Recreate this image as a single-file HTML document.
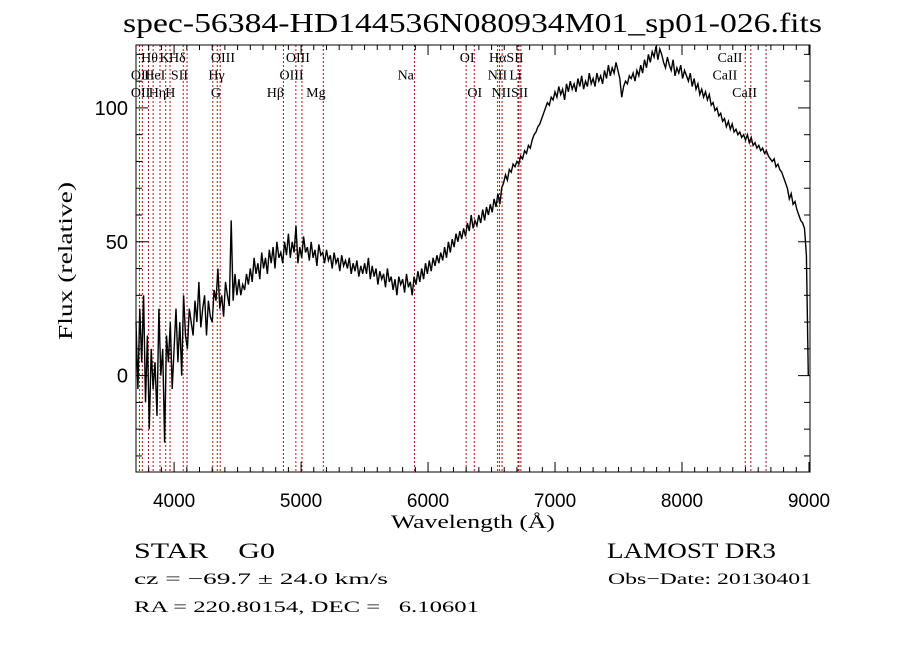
<!DOCTYPE html>
<html><head><meta charset="utf-8"><style>
html,body{margin:0;padding:0;background:#fff;}
svg{display:block;}
text{font-family:"Liberation Serif","DejaVu Serif",serif;fill:#000;white-space:pre;}
.num{font-family:"Liberation Sans",sans-serif;}
.ln{font-family:"Liberation Serif",serif;font-size:14px;}
</style></head><body>
<svg id="chart" width="900" height="649" viewBox="0 0 900 649" xml:space="preserve">
<text x="123" y="32" font-size="27" textLength="699" lengthAdjust="spacingAndGlyphs">spec-56384-HD144536N080934M01_sp01-026.fits</text>
<g id="lines"></g>
<g id="labels"></g>
<path id="spec" fill="none" stroke="#000" stroke-width="1.4" stroke-linejoin="miter"/>
<rect x="136" y="45" width="674" height="427" fill="none" stroke="#000" stroke-width="1"/>
<g id="ticks"></g>
<text x="391" y="528" font-size="19" textLength="164" lengthAdjust="spacingAndGlyphs">Wavelength (Å)</text>
<text transform="translate(72,340) rotate(-90)" font-size="20" textLength="158" lengthAdjust="spacingAndGlyphs">Flux (relative)</text>
<text x="134" y="558" font-size="22" textLength="141" lengthAdjust="spacingAndGlyphs">STAR    G0</text>
<text x="607" y="558" font-size="22" textLength="169" lengthAdjust="spacingAndGlyphs">LAMOST DR3</text>
<text x="134" y="584" font-size="16" textLength="254" lengthAdjust="spacingAndGlyphs">cz = −69.7 ± 24.0 km/s</text>
<text x="608" y="584" font-size="16" textLength="204" lengthAdjust="spacingAndGlyphs">Obs−Date: 20130401</text>
<text x="134" y="612" font-size="16" textLength="345" lengthAdjust="spacingAndGlyphs">RA = 220.80154, DEC =   6.10601</text>
</svg>
<script>
const waveStart = 3700, waveStep = 15;
const fluxValues = [
20,-5,25,5,30,-10,15,-20,10,-5,
5,-15,25,0,10,-25,15,5,20,-5,
10,25,5,20,0,30,15,10,25,20,
15,28,20,35,18,25,30,15,28,22,
20,32,28,40,25,30,22,35,30,26,
58,28,38,30,36,30,34,32,38,34,
40,35,44,38,42,36,46,40,44,38,
47,42,48,40,50,44,46,42,50,45,
53,44,50,46,56,42,48,44,52,46,
48,43,50,44,47,41,49,45,46,42,
47,43,45,40,46,42,44,39,45,41,
43,40,44,38,42,39,43,37,41,38,
42,38,44,36,41,37,40,34,39,36,
38,33,40,35,37,32,36,30,37,34,
36,31,38,33,35,30,37,34,39,35,
40,36,42,38,43,39,44,41,45,42,
46,43,48,44,50,46,51,48,53,50,
54,51,55,52,57,54,60,55,58,56,
60,57,62,58,63,60,64,61,66,63,
68,64,70,72,75,73,77,76,79,78,
80,79,82,81,84,83,86,85,88,90,
91,93,94,96,98,100,102,101,104,103,
106,104,108,105,107,103,109,106,110,107,
109,106,111,108,112,107,110,108,113,109,
111,108,113,110,112,109,114,111,116,112,
115,113,117,114,111,104,108,110,109,112,
111,113,110,114,112,116,113,118,115,120,
117,121,119,123,118,122,120,117,115,119,
116,114,118,112,115,113,116,111,114,112,
110,113,108,111,107,109,105,107,104,106,
103,105,101,102,99,100,97,98,95,96,
93,95,92,94,91,92,90,91,89,90,
88,90,87,89,86,87,85,86,84,85,
83,84,82,81,80,81,78,79,77,76,
74,72,70,66,68,64,65,62,60,58,
57,55,45,0];
const lineWaves = [3727,3750,3798,3835,3889,3934,3968,4072,4102,4305,4340,4363,4861,4959,5007,5175,5893,6300,6364,6548,6563,6583,6708,6716,6731,8498,8542,8662];
const labelText = ["Hθ","K","Hδ","OIII","OIII","OI","HαSII","CaII","OII","HeI","SII","Hγ","OIII","Na","NII","Li","CaII","OII","Hη","H","G","Hβ","Mg","OI","NIISII","CaII"];
const labelWave = [3740,3885,3960,4290,4880,6250,6480,8280,3660,3765,3975,4270,4830,5760,6470,6640,8240,3660,3800,3930,4290,4730,5040,6310,6500,8395];
const labelRow =  [0,0,0,0,0,0,0,0,1,1,1,1,1,1,1,1,1,2,2,2,2,2,2,2,2,2];
const xTicks = [4000,5000,6000,7000,8000,9000];
const yTicks = [0,50,100];
const X0=3700,X1=9008,Y0=-36,Y1=123.5;
const PL=136,PR=810,PT=45,PB=472;
const xs = w => PL+(w-X0)/(X1-X0)*(PR-PL);
const ys = f => PB-(f-Y0)/(Y1-Y0)*(PB-PT);
const NS='http://www.w3.org/2000/svg';
let d='';
fluxValues.forEach((f,i)=>{const w=waveStart+i*waveStep;d+=(i?'L':'M')+xs(Math.min(w,X1)).toFixed(1)+' '+ys(f).toFixed(1);});
document.getElementById('spec').setAttribute('d',d);
const lg=document.getElementById('lines');
lineWaves.forEach((w,i)=>{const l=document.createElementNS(NS,'line');
l.setAttribute('x1',xs(w));l.setAttribute('x2',xs(w));l.setAttribute('y1',PT);l.setAttribute('y2',PB);
l.setAttribute('stroke','#a81818');l.setAttribute('stroke-width','1');l.setAttribute('stroke-dasharray','2,2');


lg.appendChild(l);});
const lb=document.getElementById('labels');
labelText.forEach((t,i)=>{const e=document.createElementNS(NS,'text');
e.setAttribute('x',Math.max(xs(labelWave[i]),129));e.setAttribute('y',62+labelRow[i]*17.5);e.setAttribute('class','ln');e.textContent=t;


lb.appendChild(e);});
const tg=document.getElementById('ticks');
function ln(x1,y1,x2,y2){const l=document.createElementNS(NS,'line');l.setAttribute('x1',x1);l.setAttribute('y1',y1);l.setAttribute('x2',x2);l.setAttribute('y2',y2);l.setAttribute('stroke','#000');


tg.appendChild(l);}
for(let w=3700;w<=9000;w+=100){const x=xs(w),L=(w%1000===0)?10:5;ln(x,PB,x,PB-L);ln(x,PT,x,PT+L);}
for(let f=-30;f<=120;f+=10){const y=ys(f),L=(f%50===0)?12:6;ln(PL,y,PL+L,y);ln(PR,y,PR-L,y);}
xTicks.forEach(w=>{const e=document.createElementNS(NS,'text');e.setAttribute('x',xs(w));e.setAttribute('y',507);e.setAttribute('text-anchor','middle');e.setAttribute('class','num');e.setAttribute('font-size','19');e.textContent=w;


tg.appendChild(e);});
yTicks.forEach(f=>{const e=document.createElementNS(NS,'text');e.setAttribute('x',128);e.setAttribute('y',ys(f)+7);e.setAttribute('text-anchor','end');e.setAttribute('class','num');e.setAttribute('font-size','20');e.textContent=f;


tg.appendChild(e);});
</script>
</body></html>
